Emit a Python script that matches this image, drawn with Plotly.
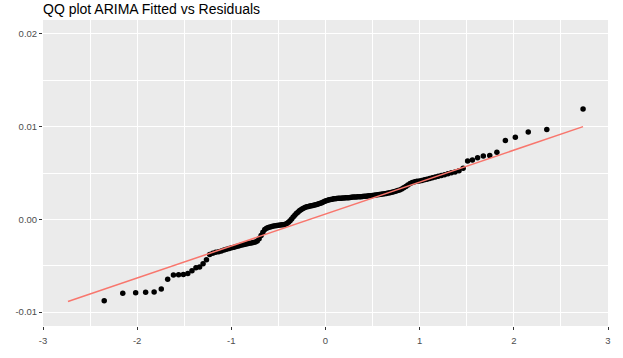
import plotly.graph_objects as go

# Theoretical quantiles (x) and sample residual quantiles (y)
theoretical = [
    -2.350, -2.153, -2.016, -1.910, -1.820, -1.744, -1.676, -1.615, -1.560, -1.509,
    -1.462, -1.418, -1.376, -1.337, -1.300, -1.264, -1.230, -1.197, -1.166, -1.135,
    -1.106, -1.077, -1.050, -1.023, -0.997, -0.971, -0.947, -0.922, -0.899, -0.875,
    -0.853, -0.830, -0.809, -0.787, -0.766, -0.745, -0.725, -0.705, -0.684, -0.665,
    -0.645, -0.626, -0.607, -0.589, -0.570, -0.552, -0.533, -0.516, -0.498, -0.480,
    -0.462, -0.445, -0.428, -0.410, -0.393, -0.376, -0.360, -0.343, -0.326, -0.310,
    -0.293, -0.277, -0.261, -0.245, -0.229, -0.213, -0.197, -0.181, -0.165, -0.150,
    -0.134, -0.118, -0.102, -0.086, -0.071, -0.055, -0.039, -0.024, -0.008,
    0.008, 0.024, 0.039, 0.055, 0.071, 0.086, 0.102, 0.118, 0.134, 0.150,
    0.165, 0.181, 0.197, 0.213, 0.229, 0.245, 0.261, 0.277, 0.293, 0.310,
    0.326, 0.343, 0.360, 0.376, 0.393, 0.410, 0.428, 0.445, 0.462, 0.480,
    0.498, 0.516, 0.533, 0.552, 0.570, 0.589, 0.607, 0.626, 0.645, 0.665,
    0.684, 0.705, 0.725, 0.745, 0.766, 0.787, 0.809, 0.830, 0.853, 0.875,
    0.899, 0.922, 0.947, 0.971, 0.997, 1.023, 1.050, 1.077, 1.106, 1.135,
    1.166, 1.197, 1.230, 1.264, 1.300, 1.337, 1.376, 1.418, 1.462, 1.509,
    1.560, 1.615, 1.676, 1.744, 1.820, 1.910, 2.016, 2.153, 2.350, 2.735,
]
residuals = [
    -0.00877, -0.00798, -0.00791, -0.00787, -0.00784, -0.00750, -0.00646, -0.00600, -0.00597, -0.00594,
    -0.00584, -0.00555, -0.00521, -0.00514, -0.00480, -0.00435, -0.00380, -0.00365, -0.00355, -0.00348,
    -0.00340, -0.00330, -0.00322, -0.00315, -0.00307, -0.00300, -0.00293, -0.00287, -0.00280, -0.00274,
    -0.00268, -0.00262, -0.00258, -0.00254, -0.00249, -0.00244, -0.00232, -0.00210, -0.00175, -0.00140,
    -0.00108, -0.00095, -0.00088, -0.00082, -0.00076, -0.00072, -0.00068, -0.00066, -0.00063, -0.00061,
    -0.00059, -0.00057, -0.00054, -0.00045, -0.00030, -0.00015, 0.00005, 0.00025, 0.00045, 0.00062,
    0.00078, 0.00092, 0.00105, 0.00115, 0.00123, 0.00130, 0.00136, 0.00140, 0.00144, 0.00147,
    0.00150, 0.00154, 0.00158, 0.00163, 0.00168, 0.00174, 0.00180, 0.00187, 0.00194,
    0.00200, 0.00206, 0.00211, 0.00215, 0.00218, 0.00221, 0.00223, 0.00225, 0.00227, 0.00228,
    0.00229, 0.00230, 0.00231, 0.00232, 0.00233, 0.00234, 0.00236, 0.00238, 0.00240, 0.00241,
    0.00242, 0.00243, 0.00244, 0.00245, 0.00247, 0.00248, 0.00250, 0.00252, 0.00254, 0.00256,
    0.00258, 0.00260, 0.00262, 0.00265, 0.00268, 0.00271, 0.00274, 0.00277, 0.00280, 0.00284,
    0.00288, 0.00292, 0.00297, 0.00303, 0.00310, 0.00318, 0.00328, 0.00340, 0.00354, 0.00370,
    0.00388, 0.00398, 0.00405, 0.00410, 0.00415, 0.00420, 0.00426, 0.00432, 0.00440, 0.00448,
    0.00458, 0.00466, 0.00474, 0.00482, 0.00492, 0.00502, 0.00512, 0.00525, 0.00550, 0.00630,
    0.00640, 0.00665, 0.00683, 0.00690, 0.00723, 0.00851, 0.00886, 0.00943, 0.00970, 0.01190,
]

# Reference (QQ) line end points
qq_line_x = [-2.735, 2.735]
qq_line_y = [-0.00885, 0.01000]

# Axis ticks
x_ticks = [-3, -2, -1, 0, 1, 2, 3]
x_tick_labels = ["-3", "-2", "-1", "0", "1", "2", "3"]
x_minor = [-2.5, -1.5, -0.5, 0.5, 1.5, 2.5]
y_ticks = [-0.01, 0.0, 0.01, 0.02]
y_tick_labels = ["-0.01", "0.00", "0.01", "0.02"]
y_minor = [-0.005, 0.005, 0.015]

fig = go.Figure()
fig.add_trace(go.Scatter(
    x=theoretical, y=residuals, mode="markers",
    marker=dict(color="black", size=5.5, line=dict(width=0)),
    showlegend=False,
))
fig.add_trace(go.Scatter(
    x=qq_line_x, y=qq_line_y, mode="lines",
    line=dict(color="#F8766D", width=1.5),
    showlegend=False,
))

axis_common = dict(
    showgrid=True, gridcolor="white", gridwidth=1.3,
    zeroline=False, showline=False,
    ticks="outside", ticklen=3, tickwidth=1, tickcolor="#333333",
    tickfont=dict(family="Liberation Sans, Arial, sans-serif", size=9.5, color="#4D4D4D"),
    tickmode="array",
)

fig.update_layout(
    width=623, height=358,
    margin=dict(l=43, r=15, t=20, b=21),
    paper_bgcolor="white",
    plot_bgcolor="#EBEBEB",
    title=dict(
        text="QQ plot ARIMA Fitted vs Residuals",
        x=43 / 623, xanchor="left", xref="container",
        y=1 - 9.5 / 358, yanchor="middle", yref="container",
        font=dict(family="Liberation Sans, Arial, sans-serif", size=14, color="black"),
    ),
    xaxis=dict(
        **axis_common, range=[-3, 3], tickvals=x_ticks, ticktext=x_tick_labels,
        ticklabelstandoff=3,
        minor=dict(tickmode="array", tickvals=x_minor, showgrid=True,
                   gridcolor="white", gridwidth=0.6, ticks=""),
    ),
    yaxis=dict(
        **axis_common, range=[-0.0115, 0.0215], tickvals=y_ticks, ticktext=y_tick_labels,
        minor=dict(tickmode="array", tickvals=y_minor, showgrid=True,
                   gridcolor="white", gridwidth=0.6, ticks=""),
    ),
)

fig.write_html("out.html")
